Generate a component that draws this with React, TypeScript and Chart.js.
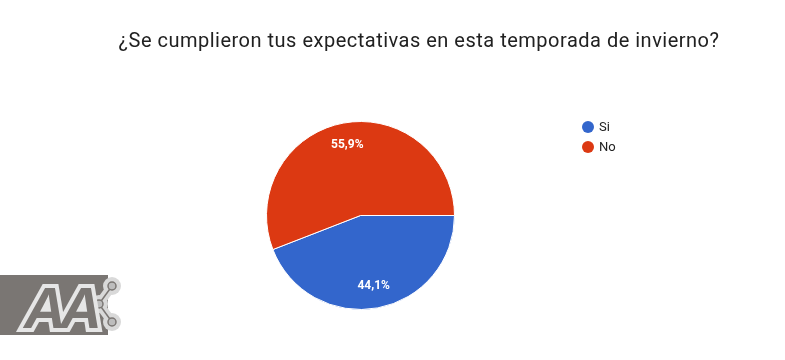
import React, { useEffect, useRef } from "react";
import { Chart, registerables } from "chart.js";

Chart.register(...registerables);

const title = "¿Se cumplieron tus expectativas en esta temporada de invierno?";
const categories = ["Si", "No"];
const values = [44.1, 55.9];
const labels = ["44,1%", "55,9%"];
const colors = ["#3366cc", "#dc3912"];

const overlay = {
  id: "overlay",
  afterDraw(chart: any) {
    const ctx = chart.ctx;
    ctx.save();
    // title
    ctx.fillStyle = "#212121";
    ctx.font = "20px Roboto";
    ctx.textAlign = "center";
    ctx.textBaseline = "middle";
    (ctx as any).letterSpacing = "0.5px";
    ctx.fillText(title, 419, 42);
    (ctx as any).letterSpacing = "0px";
    // slice labels
    const meta = chart.getDatasetMeta(0);
    ctx.font = "bold 12px Roboto";
    ctx.fillStyle = "#ffffff";
    meta.data.forEach((arc: any, i: number) => {
      const mid = (arc.startAngle + arc.endAngle) / 2;
      const r = arc.outerRadius * 0.76;
      ctx.fillText(labels[i], arc.x + Math.cos(mid) * r, arc.y + Math.sin(mid) * r);
    });
    // legend
    ctx.textAlign = "left";
    ctx.font = "13px Roboto";
    categories.forEach((c, i) => {
      const y = 127 + i * 20;
      ctx.fillStyle = colors[i];
      ctx.beginPath();
      ctx.arc(588, y, 6, 0, Math.PI * 2);
      ctx.fill();
      ctx.fillStyle = "#222222";
      ctx.fillText(c, 599, y + 1);
    });
    ctx.restore();
  },
};

export default function App() {
  const ref = useRef<HTMLCanvasElement>(null);
  useEffect(() => {
    const chart = new Chart(ref.current!, {
      type: "pie",
      data: {
        labels: categories,
        datasets: [
          {
            data: values,
            backgroundColor: colors,
            borderColor: "#ffffff",
            borderWidth: 1,
          },
        ],
      },
      options: {
        responsive: false,
        animation: false,
        rotation: 90,
        layout: { padding: { left: 266, right: 330, top: 121, bottom: 50 } },
        plugins: {
          legend: { display: false },
          title: { display: false },
          tooltip: { enabled: false },
        },
      },
      plugins: [overlay],
    });
    return () => chart.destroy();
  }, []);
  return (
    <div style={{ position: "absolute", left: 0, top: 0, width: 785, height: 360, background: "#fff" }}>
      <canvas ref={ref} width={785} height={360} style={{ display: "block" }} />
      <svg
        width={140}
        height={80}
        style={{ position: "absolute", left: 0, top: 265 }}
        viewBox="0 0 140 80"
      >
        <rect x={0} y={10} width={108} height={60} fill="#7a7673" />
        <g stroke="#d9d9d9" strokeWidth={9} strokeLinecap="round">
          <line x1={112} y1={21} x2={99} y2={39} />
          <line x1={99} y1={39} x2={112} y2={57} />
        </g>
        <circle cx={112} cy={21} r={9} fill="#d9d9d9" />
        <circle cx={99} cy={39} r={9} fill="#d9d9d9" />
        <circle cx={112} cy={57} r={9} fill="#d9d9d9" />
        <g stroke="#7a7673" strokeWidth={1.5} fill="#bdbdbd">
          <line x1={112} y1={21} x2={99} y2={39} />
          <line x1={99} y1={39} x2={112} y2={57} />
          <circle cx={112} cy={21} r={4} />
          <circle cx={99} cy={39} r={4} />
          <circle cx={112} cy={57} r={4} />
        </g>
        <text
          x={24}
          y={63}
          fontFamily="Liberation Sans"
          fontStyle="italic"
          fontWeight="bold"
          fontSize={58}
          fill="#7a7673"
          stroke="#e6e6e6"
          strokeWidth={8}
          style={{ paintOrder: "stroke" } as any}
          letterSpacing={-6}
        >
          AA
        </text>
      </svg>
    </div>
  );
}
